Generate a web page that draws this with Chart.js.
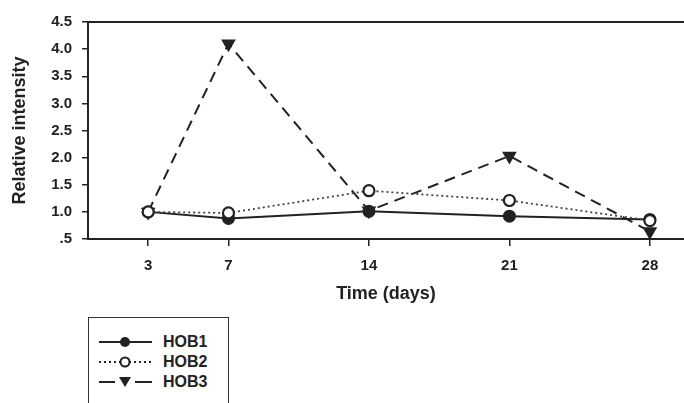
<!DOCTYPE html>
<html>
<head>
<meta charset="utf-8">
<script src="https://cdn.jsdelivr.net/npm/chart.js@4.4.1/dist/chart.umd.min.js"></script>
<style>
  html, body { margin: 0; padding: 0; background: #fff; overflow: hidden; }
  #wrap { position: absolute; left: 0; top: 0; width: 684px; height: 315px; }
  #legend {
    position: absolute; left: 88px; top: 317px; width: 141px; height: 100px;
    border: 1.5px solid #333; box-sizing: border-box;
    font-family: "Liberation Sans", Arial, sans-serif; font-weight: bold; font-size: 16px; color: #222;
  }
  .row { position: absolute; left: 0; height: 20px; width: 140px; }
  .row svg { position: absolute; left: 10px; top: 0; }
  .row span { position: absolute; left: 74px; top: 1px; line-height: 18px; }
</style>
</head>
<body>
<div id="wrap"><canvas id="myChart" width="684" height="315"></canvas></div>
<div id="legend"></div>
<script>
// datos
const dias = [3, 7, 14, 21, 28];
const hob1 = [1.0, 0.88, 1.01, 0.92, 0.86];
const hob2 = [1.0, 0.98, 1.39, 1.21, 0.84];
const hob3 = [1.0, 4.10, 1.02, 2.03, 0.64];
const nombres = ["HOB1", "HOB2", "HOB3"];
const yTicks = [0.5, 1.0, 1.5, 2.0, 2.5, 3.0, 3.5, 4.0, 4.5];

const tinta = "#222";
const fuente = "'Liberation Sans', Arial, sans-serif";

const puntos = (serie) => dias.map((d, i) => ({ x: d, y: serie[i] }));

const config = {
  type: "line",
  data: {
    datasets: [
      {
        label: nombres[0],
        data: puntos(hob1),
        borderColor: tinta,
        borderWidth: 2,
        pointStyle: "circle",
        pointRadius: 5.5,
        pointBackgroundColor: tinta,
        pointBorderColor: tinta,
        order: 1,
      },
      {
        label: nombres[1],
        data: puntos(hob2),
        borderColor: "#444",
        borderWidth: 1.8,
        borderDash: [2, 3],
        pointStyle: "circle",
        pointRadius: 5.5,
        pointBorderWidth: 2.2,
        pointBackgroundColor: "#fff",
        pointBorderColor: tinta,
        order: 0,
      },
      {
        label: nombres[2],
        data: puntos(hob3),
        borderColor: tinta,
        borderWidth: 2,
        borderDash: [11, 7],
        pointStyle: "triangle",
        rotation: 180,
        pointRadius: 6.5,
        pointBackgroundColor: tinta,
        pointBorderColor: tinta,
        order: 2,
      },
    ],
  },
  options: {
    responsive: false,
    animation: false,
    layout: { autoPadding: false, padding: { top: 22, left: 0, right: 0, bottom: 0 } },
    plugins: { legend: { display: false }, tooltip: { enabled: false } },
    elements: { line: { tension: 0 } },
    scales: {
      x: {
        type: "linear",
        position: "bottom",
        min: 0,
        max: 29.7,
        afterBuildTicks: (axis) => { axis.ticks = dias.map((v) => ({ value: v })); },
        afterFit: (axis) => { axis.height = 76; },
        grid: { display: true, drawOnChartArea: false, drawTicks: true, tickLength: 7, color: tinta, lineWidth: 1.5 },
        border: { display: true, color: tinta, width: 2 },
        ticks: { color: tinta, padding: 11, font: { family: fuente, size: 15, weight: "bold" } },
        title: { display: true, text: "Time (days)", color: tinta, padding: { top: 0, bottom: 10 }, font: { family: fuente, size: 18, weight: "bold" } },
      },
      top: {
        type: "linear",
        position: "top",
        min: 0,
        max: 29.7,
        afterFit: (axis) => { axis.height = 0; },
        grid: { display: false },
        ticks: { display: false },
        border: { display: true, color: tinta, width: 2 },
      },
      y: {
        min: 0.5,
        max: 4.5,
        afterBuildTicks: (axis) => { axis.ticks = yTicks.map((v) => ({ value: v })); },
        afterFit: (axis) => { axis.width = 88; },
        grid: { display: true, drawOnChartArea: false, drawTicks: true, tickLength: 6, color: tinta, lineWidth: 1.5 },
        border: { display: true, color: tinta, width: 2 },
        ticks: {
          color: tinta,
          padding: 10,
          font: { family: fuente, size: 15, weight: "bold" },
          callback: (v) => (v === 0.5 ? ".5" : v.toFixed(1)),
        },
        title: { display: true, text: "Relative intensity", color: tinta, padding: { top: 9, bottom: 0 }, font: { family: fuente, size: 18, weight: "bold" } },
      },
    },
  },
};

new Chart(document.getElementById("myChart"), config);

// leyenda en html con los mismos estilos de linea
const muestras = [
  { dash: "", marca: '<circle cx="26" cy="10" r="5" fill="#222"/>' },
  { dash: "2 3", marca: '<circle cx="26" cy="10" r="4.5" fill="#fff" stroke="#222" stroke-width="2"/>' },
  { dash: "11 7", marca: '<polygon points="20,5 32,5 26,15" fill="#222"/>' },
];
const legend = document.getElementById("legend");
nombres.forEach((n, i) => {
  const row = document.createElement("div");
  row.className = "row";
  row.style.top = (14 + i * 20) + "px";
  const d = muestras[i];
  let linea = '<line x1="0" y1="10" x2="53" y2="10" stroke="#222" stroke-width="2"' + (d.dash ? ' stroke-dasharray="' + d.dash + '"' : "") + "/>";
  if (i === 2) linea = '<line x1="0" y1="10" x2="16" y2="10" stroke="#222" stroke-width="2"/><line x1="36" y1="10" x2="53" y2="10" stroke="#222" stroke-width="2"/>';
  row.innerHTML = '<svg width="54" height="20">' + linea + d.marca + "</svg><span>" + n + "</span>";
  legend.appendChild(row);
});
</script>
</body>
</html>
